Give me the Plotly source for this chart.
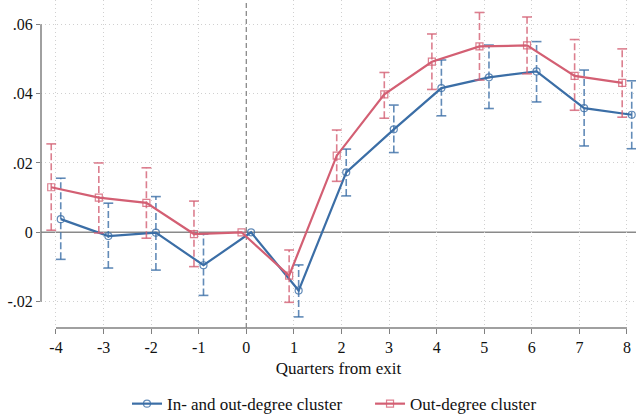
import plotly.graph_objects as go

quarters = [-4, -3, -2, -1, 0, 1, 2, 3, 4, 5, 6, 7, 8]
quarter_labels = ["-4", "-3", "-2", "-1", "0", "1", "2", "3", "4", "5", "6", "7", "8"]

# In- and out-degree cluster
blue_est = [0.0038, -0.0011, -0.0001, -0.0095, 0.0, -0.0168, 0.0173, 0.0297, 0.0416, 0.0447, 0.0464, 0.0358, 0.0339]
blue_hi = [0.0156, 0.0084, 0.0103, -0.0005, 0.0, -0.0094, 0.0240, 0.0367, 0.0497, 0.0540, 0.0550, 0.0468, 0.0437]
blue_lo = [-0.0078, -0.0103, -0.0109, -0.0182, 0.0, -0.0244, 0.0105, 0.0230, 0.0336, 0.0357, 0.0376, 0.0249, 0.0241]

# Out-degree cluster
red_est = [0.0130, 0.0100, 0.0085, -0.0005, 0.0, -0.0125, 0.0221, 0.0398, 0.0492, 0.0536, 0.0539, 0.0451, 0.0431]
red_hi = [0.0255, 0.0200, 0.0186, 0.0090, 0.0, -0.0051, 0.0295, 0.0461, 0.0572, 0.0634, 0.0621, 0.0556, 0.0529]
red_lo = [0.0006, -0.0002, -0.0017, -0.0099, 0.0, -0.0202, 0.0147, 0.0329, 0.0412, 0.0439, 0.0457, 0.0352, 0.0332]

ytick_vals = [-0.02, 0, 0.02, 0.04, 0.06]
ytick_text = ["-.02", "0", ".02", ".04", ".06"]

BLUE = "#3b6ea6"
BLUE_L = "rgba(59,110,166,0.8)"
RED = "#d35f73"
RED_L = "rgba(211,95,115,0.8)"
FONT = "Liberation Serif"
GRID = "#d0d0d0"

fig = go.Figure()


def add_series(name, est, lo, hi, offset, color, light, symbol, legend):
    xs = [q + offset for q in quarters]
    bx, by = [], []
    cx, cy = [], []
    for x, l, h in zip(xs, lo, hi):
        if h == l:
            continue
        bx += [x, x, None]
        by += [l, h, None]
        cx += [x, x]
        cy += [l, h]
    fig.add_trace(go.Scatter(x=bx, y=by, mode="lines",
                             line=dict(color=light, width=1.6, dash="7px,3px"),
                             showlegend=False, hoverinfo="skip"))
    fig.add_trace(go.Scatter(x=cx, y=cy, mode="markers",
                             marker=dict(symbol="line-ew", size=7,
                                         line=dict(color=light, width=1.6)),
                             showlegend=False, hoverinfo="skip"))
    fig.add_trace(go.Scatter(x=xs, y=est, mode="lines+markers", name=name,
                             legend=legend,
                             line=dict(color=color, width=2.2),
                             marker=dict(symbol=symbol, size=7, color=light,
                                         line=dict(width=1.2, color=light))))


add_series("In- and out-degree cluster", blue_est, blue_lo, blue_hi, 0.1, BLUE, BLUE_L, "circle-open", "legend")
add_series("Out-degree cluster", red_est, red_lo, red_hi, -0.1, RED, RED_L, "square-open", "legend2")

# reference lines (below traces)
fig.add_hline(y=0, line=dict(color="#8a8a8a", width=1.5), layer="below")
fig.add_vline(x=0, line=dict(color="#8a8a8a", width=1.3, dash="5px,3px"), layer="below")
# axis lines spanning the tick range (Stata style)
fig.add_shape(type="line", xref="paper", yref="y", x0=0, x1=0, y0=-0.02, y1=0.06,
              line=dict(color="#808080", width=1.5))
fig.add_shape(type="line", xref="x", yref="paper", x0=-4, x1=8, y0=0, y1=0,
              line=dict(color="#808080", width=1.5))

x_grid = [q for q in quarters if q != 0]
y_grid = [v for v in ytick_vals if v != 0]

fig.update_xaxes(range=[-4.315, 8.19], tickvals=quarters, ticktext=quarter_labels,
                 ticks="outside", ticklen=5,
                 tickcolor="#808080", tickwidth=1.3, showline=False, zeroline=False,
                 showgrid=False, automargin=False,
                 minor=dict(tickvals=x_grid, showgrid=True, gridcolor=GRID,
                            griddash="1px,3px", gridwidth=1, ticks=""),
                 tickfont=dict(family=FONT, size=16, color="#111111"),
                 title=dict(text="Quarters from exit", standoff=6,
                            font=dict(family=FONT, size=17, color="#111111")))
fig.update_yaxes(range=[-0.0276, 0.067], tickvals=ytick_vals, ticktext=ytick_text,
                 ticks="outside", ticklen=4, tickcolor="#808080", tickwidth=1.3,
                 showline=False, zeroline=False, showgrid=False, automargin=False,
                 minor=dict(tickvals=y_grid, showgrid=True, gridcolor=GRID,
                            griddash="1px,3px", gridwidth=1, ticks=""),
                 tickfont=dict(family=FONT, size=16, color="#111111"))

legend_font = dict(family=FONT, size=17, color="#111111")
fig.update_layout(
    width=636, height=416,
    margin=dict(l=41, r=0, t=0, b=88, autoexpand=False),
    plot_bgcolor="white", paper_bgcolor="white",
    showlegend=True,
    legend=dict(x=0.1445, xanchor="left", y=-0.232, yanchor="middle",
                font=legend_font, itemwidth=30, bgcolor="rgba(0,0,0,0)"),
    legend2=dict(x=0.553, xanchor="left", y=-0.232, yanchor="middle",
                 font=legend_font, itemwidth=30, bgcolor="rgba(0,0,0,0)"),
)

fig.write_html("out.html")
